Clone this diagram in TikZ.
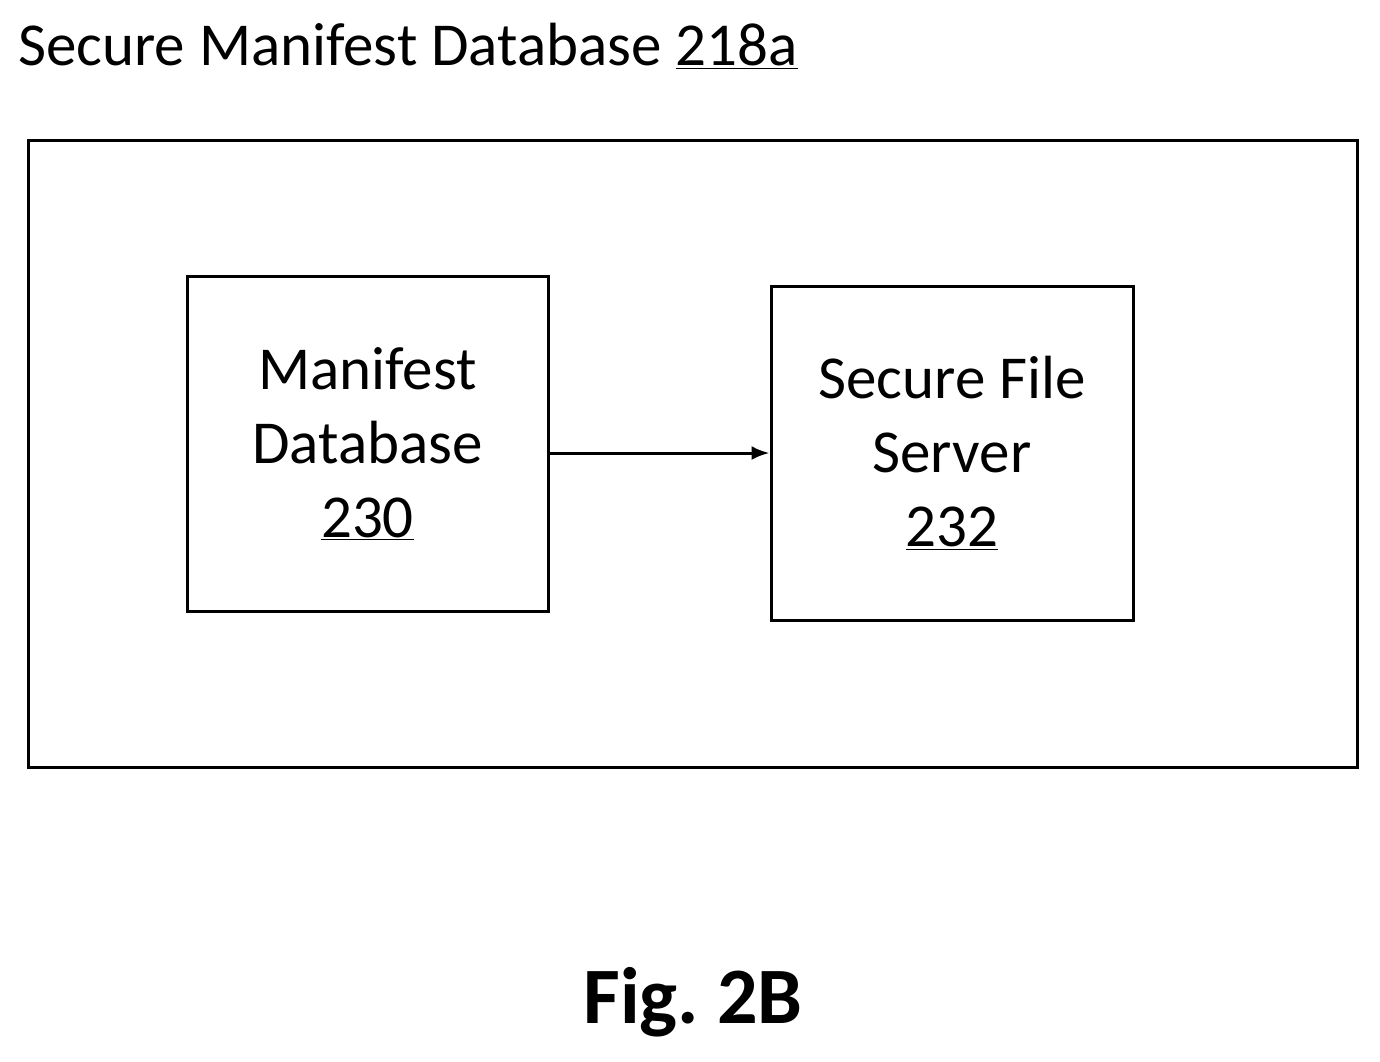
\documentclass[tikz,border=0pt]{standalone}
\usepackage{fontspec}
\setmainfont{Carlito}
\usetikzlibrary{arrows.meta}
\begin{document}
\begin{tikzpicture}[x=1pt,y=-1pt,
  box/.style={draw,line width=3pt},
  lbl/.style={align=center,font=\fontsize{61}{74}\selectfont,inner sep=0}]
\useasboundingbox (0,0) rectangle (1380,1061);
\node[anchor=west,inner sep=0,font=\fontsize{61}{70}\selectfont] (title) at (18,46) {Secure Manifest Database \underline{218a}};
\draw[box] (28,140) rectangle (1357,767);
\node[box,minimum width=361pt,minimum height=335pt,inner sep=0] (md) at (367.5,443.5) {};
\node[lbl] at (md) {Manifest\\Database\\\underline{230}};
\node[box,minimum width=362pt,minimum height=334pt,inner sep=0] (sf) at (952,453) {};
\node[lbl] at (sf) {Secure File\\Server\\\underline{232}};
\draw[line width=3pt,-{Latex[length=18pt,width=14pt]}] (md.east |- 0,453) -- (sf.west);
\node[font=\bfseries\fontsize{80}{90}\selectfont,inner sep=0] (fig) at (693,1002) {Fig.~2B};
\end{tikzpicture}
\end{document}
